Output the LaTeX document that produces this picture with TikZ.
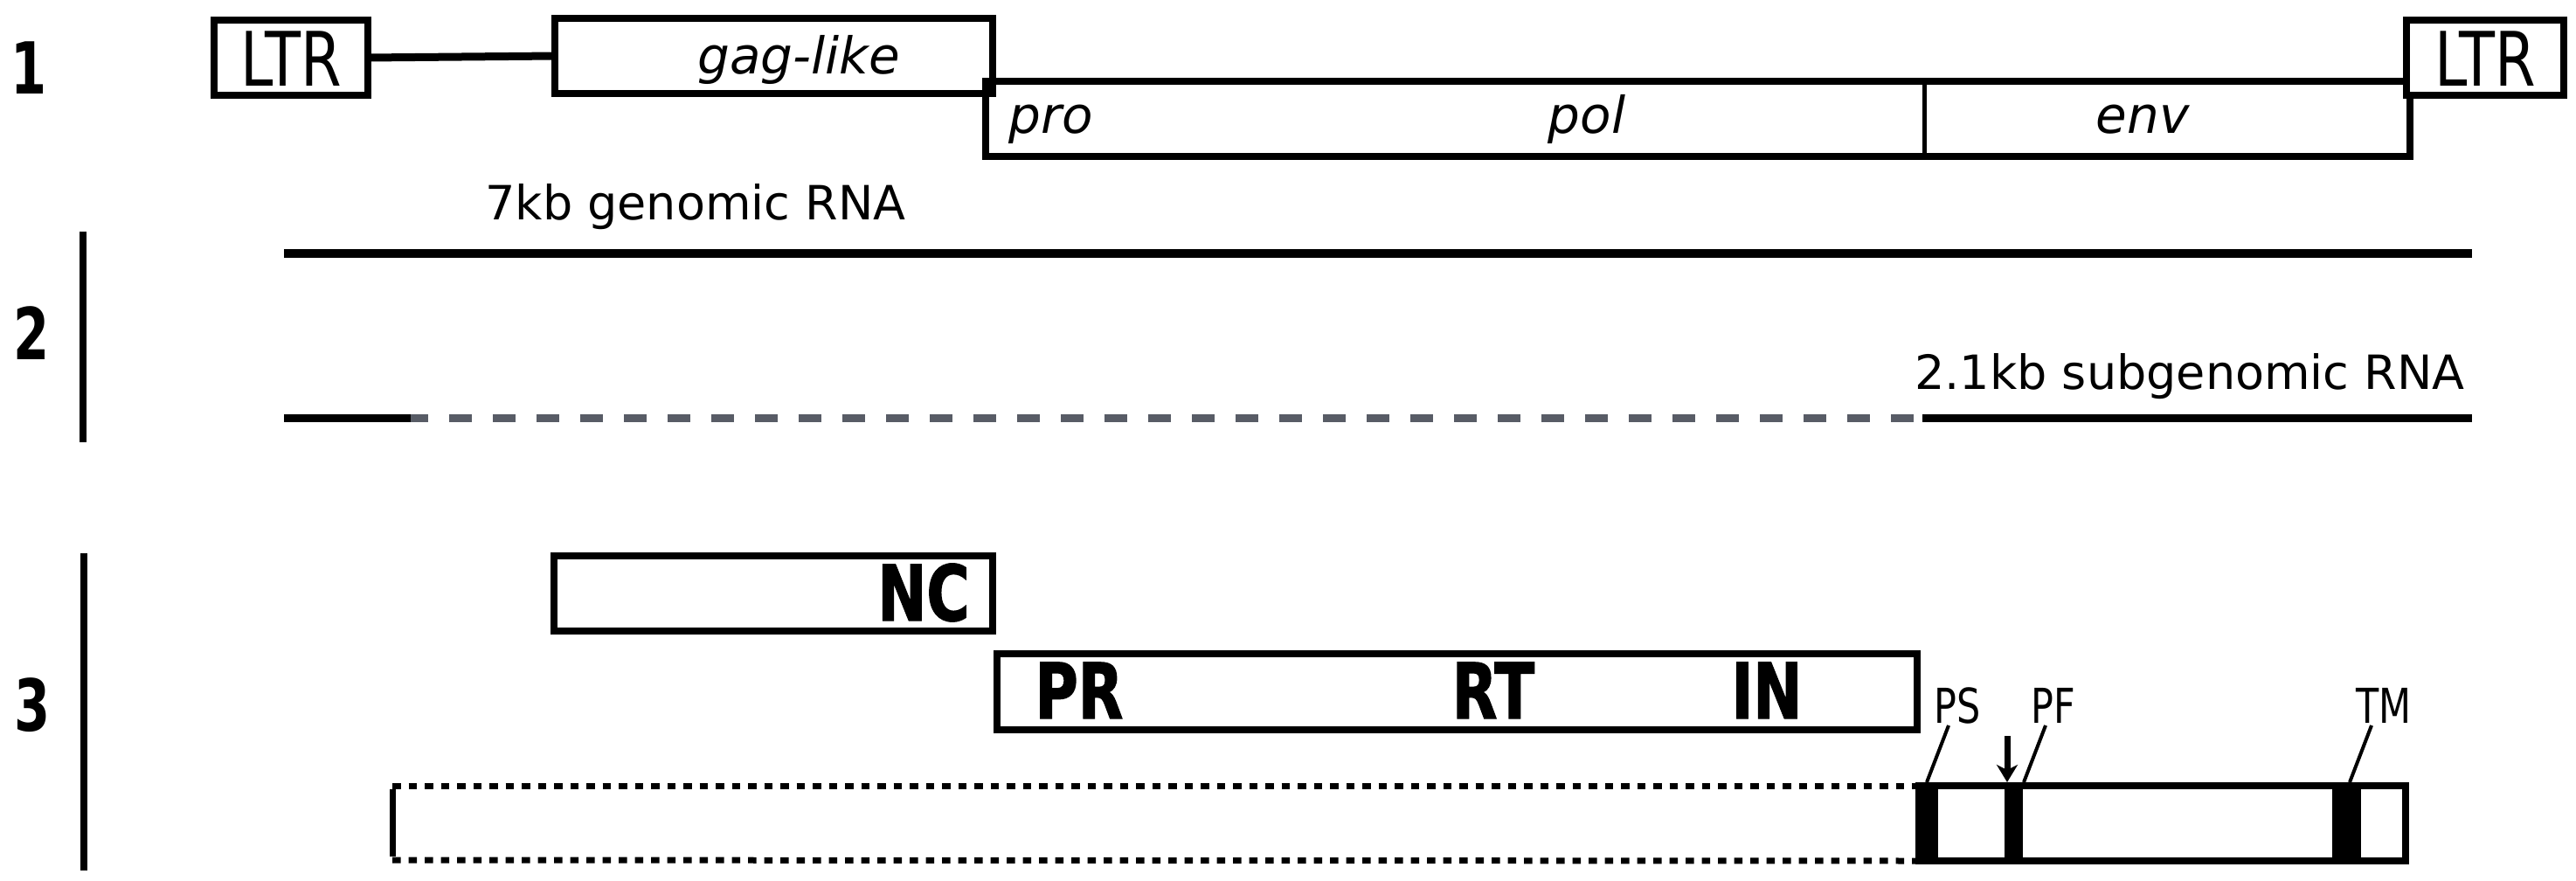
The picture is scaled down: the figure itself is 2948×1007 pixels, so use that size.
\documentclass[tikz,border=0pt]{standalone}
\usepackage{fontspec}
\usetikzlibrary{arrows.meta}
\setmainfont{DejaVu Sans}
\newfontfamily\txtfont{DejaVu Sans}
\newfontfamily\itfont{DejaVu Sans Oblique}
\newfontfamily\condfont[FakeStretch=0.78]{DejaVu Sans}
\newfontfamily\heavyfont[FakeStretch=0.76,FakeBold=1.5]{DejaVu Sans Bold}
\newfontfamily\numfont[FakeStretch=0.72]{DejaVu Sans Bold}
\definecolor{dashgray}{HTML}{585C66}
\tikzset{
  genebox/.style={draw=black, line width=8pt, rectangle, inner sep=0pt, outer sep=0pt},
  ltrbox/.style={genebox, fill=white},
  rnaline/.style={line width=9pt},
  lbl/.style={inner sep=0pt, anchor=base, text=black},
  numlbl/.style={inner sep=0pt, anchor=center, font=\numfont\fontsize{82}{90}\selectfont},
  ltrtext/.style={lbl, font=\condfont\fontsize{86}{90}\selectfont},
  ittext/.style={lbl, font=\itfont\fontsize{58}{64}\selectfont},
  rnatext/.style={lbl, font=\txtfont\fontsize{54}{60}\selectfont},
  domtext/.style={lbl, font=\heavyfont\fontsize{88}{94}\selectfont},
  sitetext/.style={lbl, font=\condfont\fontsize{55}{60}\selectfont},
  bar/.style={line width=8pt},
  leader/.style={line width=4pt},
}
\begin{document}
\begin{tikzpicture}[x=1pt,y=-1pt]
\useasboundingbox (0,0) rectangle (2948,1007);
% ---------- row 1 ----------
\node[numlbl] (n1) at (33,78) {1};
\node[genebox, minimum width=501pt, minimum height=86pt] (gag) at (885.5,64) {};
\node[genebox, minimum width=1630pt, minimum height=86pt] (pol) at (1943,136) {};
\node[ltrbox, minimum width=176pt, minimum height=86pt] (ltrL) at (333,66) {};
\node[ltrbox, minimum width=180pt, minimum height=86pt] (ltrR) at (2844,66) {};
\node[ltrtext] (ltrLt) at (ltrL.center) [yshift=-32pt] {LTR};
\node[ltrtext] (ltrRt) at (ltrR.center) [yshift=-32pt] {LTR};
\draw[line width=9pt] (ltrL.east) -- (gag.west);
\coordinate (divT) at (2202,93);
\coordinate (divB) at (2202,179);
\draw[line width=5pt] (divT) -- (divB);
\node[ittext] (gagt) at (914,84) {gag-like};
\node[ittext] (prot) at (1203,152) {pro};
\node[ittext] (polt) at (1816,152) {pol};
\node[ittext] (envt) at (2452,152) {env};
% ---------- row 2 ----------
\node[numlbl] (n2) at (36,381) {2};
\coordinate (b2t) at (95,265);
\coordinate (b2b) at (95,506);
\draw[bar] (b2t) -- (b2b);
\node[rnatext] (g7) at (796,251) {7kb genomic RNA};
\coordinate (r1a) at (325,290);
\coordinate (r1b) at (2829,290);
\draw[line width=10pt] (r1a) -- (r1b);
\node[rnatext] (g21) at (2506,445) {2.1kb subgenomic RNA};
\coordinate (r2a) at (325,478);
\coordinate (r2b) at (470,478);
\coordinate (r2c) at (2200,478);
\coordinate (r2d) at (2829,478);
\draw[rnaline] (r2a) -- (r2b);
\draw[rnaline, dashgray, dash pattern=on 26pt off 24pt, dash phase=6pt] (r2b) -- (r2c);
\draw[rnaline] (r2c) -- (r2d);
% ---------- row 3 ----------
\node[numlbl] (n3) at (37,807) {3};
\coordinate (b3t) at (96,633);
\coordinate (b3b) at (96,996);
\draw[bar] (b3t) -- (b3b);
\node[genebox, minimum width=502pt, minimum height=86pt] (nc) at (885,679) {};
\node[domtext] (nct) at (1057,710) {NC};
\node[genebox, minimum width=1053pt, minimum height=87pt] (prin) at (1667.5,791.5) {};
\node[domtext] (prt) at (1235,822) {PR};
\node[domtext] (rtt) at (1709,822) {RT};
\node[domtext] (int) at (2022,822) {IN};
% precursor (dotted) and env protein
\node[genebox, minimum width=557pt, minimum height=86pt] (envp) at (2474.5,942) {};
\coordinate (dtl) at (449,899);
\coordinate (dbl) at (449,984);
\draw[line width=7pt, dash pattern=on 9.5pt off 9pt] (dtl) -- (envp.north west);
\draw[line width=7pt, dash pattern=on 9.5pt off 9pt] (dbl) -- (envp.south west);
\draw[line width=7pt] ([yshift=-4pt]dtl) -- ([yshift=4pt]dbl);
\fill[black] (2192,895) rectangle (2218,989);
\fill[black] (2294,895) rectangle (2315,989);
\fill[black] (2669,895) rectangle (2702,989);
\node[sitetext] (ps) at (2240,827) {PS};
\node[sitetext] (pf) at (2350,827) {PF};
\node[sitetext] (tm) at (2728,827) {TM};
\coordinate (psE) at (2205,895);
\coordinate (pfE) at (2316,895);
\coordinate (tmE) at (2689,895);
\draw[leader] (2230,830) -- (psE);
\draw[leader] (2341,830) -- (pfE);
\draw[leader] (2714,830) -- (tmE);
\coordinate (arT) at (2297,842);
\coordinate (arB) at (2297,895);
\draw[line width=7pt, -{Stealth[length=20pt,width=24pt,inset=6pt]}] (arT) -- (arB);
\end{tikzpicture}
\end{document}
